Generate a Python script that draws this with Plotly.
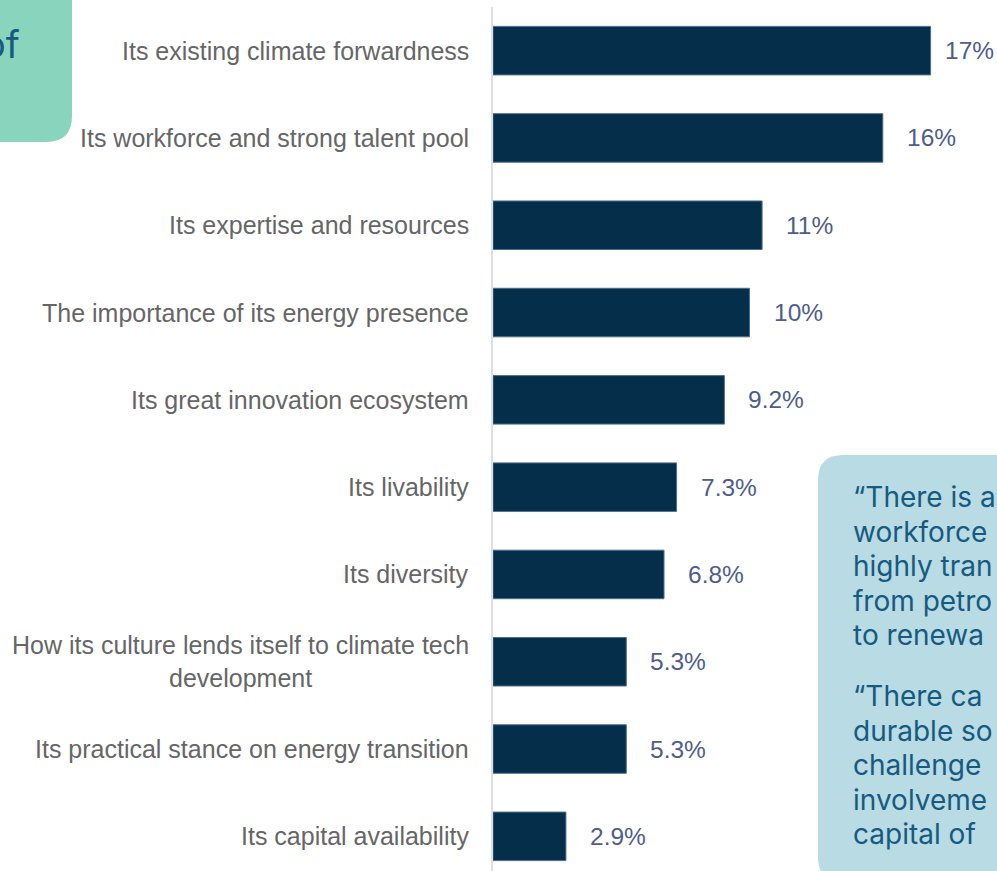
import plotly.graph_objects as go

# Survey data: share of respondents naming each strength (%)
categories = [
    "Its existing climate forwardness",
    "Its workforce and strong talent pool",
    "Its expertise and resources",
    "The importance of its energy presence",
    "Its great innovation ecosystem",
    "Its livability",
    "Its diversity",
    "How its culture lends itself to climate tech<br>development",
    "Its practical stance on energy transition",
    "Its capital availability",
]
values = [17.4, 15.5, 10.7, 10.2, 9.2, 7.3, 6.8, 5.3, 5.3, 2.9]

# Quote panel lines (the panel runs off the right edge of the page)
quote_one = [
    "\u201cThere is a",
    "workforce",
    "highly tran",
    "from petro",
    "to renewa",
]
quote_two = [
    "\u201cThere ca",
    "durable so",
    "challenge",
    "involveme",
    "capital of",
]
panel_heading = "of"

W, H = 997, 871
ML, MT = 493, 7
PLOT_W, PLOT_H = W - ML, H - MT
X_MAX = 20.04
Y_TOP, Y_BOTTOM = -0.5, 9.397

BAR = "#052e4b"
BAR_EDGE = "#4f6f8c"
LABEL = "#666666"
VALUE = "#4e5d8a"
MINT = "#89d4bc"
ICE = "#b8dbe4"
INK = "#165a80"


def px_x(px):
    return (px - ML) / PLOT_W


def px_y(py):
    return (H - py) / PLOT_H


def rounded_box(left, top, right, bottom, r, corners):
    """SVG path (paper coords) for a box with quadratic rounded corners."""
    tl, tr, br, bl = corners
    pts = []
    pts.append(f"M{px_x(left + (r if tl else 0))},{px_y(top)}")
    if tr:
        pts.append(f"L{px_x(right - r)},{px_y(top)}")
        pts.append(f"Q{px_x(right)},{px_y(top)} {px_x(right)},{px_y(top + r)}")
    else:
        pts.append(f"L{px_x(right)},{px_y(top)}")
    if br:
        pts.append(f"L{px_x(right)},{px_y(bottom - r)}")
        pts.append(f"Q{px_x(right)},{px_y(bottom)} {px_x(right - r)},{px_y(bottom)}")
    else:
        pts.append(f"L{px_x(right)},{px_y(bottom)}")
    if bl:
        pts.append(f"L{px_x(left + r)},{px_y(bottom)}")
        pts.append(f"Q{px_x(left)},{px_y(bottom)} {px_x(left)},{px_y(bottom - r)}")
    else:
        pts.append(f"L{px_x(left)},{px_y(bottom)}")
    if tl:
        pts.append(f"L{px_x(left)},{px_y(top + r)}")
        pts.append(f"Q{px_x(left)},{px_y(top)} {px_x(left + r)},{px_y(top)}")
    pts.append("Z")
    return " ".join(pts)


fig = go.Figure(
    go.Bar(
        x=values,
        y=categories,
        orientation="h",
        marker=dict(color=BAR, line=dict(color=BAR_EDGE, width=1)),
        width=0.556,
        hoverinfo="skip",
    )
)

annotations = []

# Category labels, right-aligned against the axis, multi-line ones centred
for cat in categories:
    annotations.append(dict(
        x=0, xref="paper", y=cat, yref="y",
        text=cat, showarrow=False,
        xanchor="right", yanchor="middle", align="center",
        xshift=-22,
        font=dict(family="Liberation Sans, Arial, sans-serif", size=25, color=LABEL),
    ))

# Value labels just past the end of each bar
vmax = max(values)
for cat, v in zip(categories, values):
    annotations.append(dict(
        x=v, xref="x", y=cat, yref="y",
        text=f"{v:.2g}%", showarrow=False,
        xanchor="left", yanchor="middle",
        xshift=12 if v == vmax else 22,
        font=dict(family="Liberation Sans, Arial, sans-serif", size=24.5, color=VALUE),
    ))

# Quote panel text
line_step = 34.5
for block, first_centre in ((quote_one, 497), (quote_two, 696)):
    for i, line in enumerate(block):
        annotations.append(dict(
            x=px_x(851), xref="paper", y=px_y(first_centre + i * line_step), yref="paper",
            text=line, showarrow=False, xanchor="left", yanchor="middle",
            font=dict(family="Inter, sans-serif", size=28, color=INK),
        ))

# Heading panel text
annotations.append(dict(
    x=px_x(22), xref="paper", y=px_y(44), yref="paper",
    text=panel_heading, showarrow=False, xanchor="right", yanchor="middle",
    font=dict(family="Inter, sans-serif", size=38, color=INK),
))

shapes = [
    dict(type="path", xref="paper", yref="paper", layer="below",
         path=rounded_box(-20, -20, 72, 142, 26, (False, False, True, False)),
         fillcolor=MINT, line=dict(width=0)),
    dict(type="path", xref="paper", yref="paper", layer="below",
         path=rounded_box(818, 455, 1020, 882, 25, (True, False, False, True)),
         fillcolor=ICE, line=dict(width=0)),
]

fig.update_layout(
    width=W, height=H,
    margin=dict(l=ML, r=0, t=MT, b=0, pad=0),
    paper_bgcolor="white", plot_bgcolor="white",
    showlegend=False,
    bargap=0.444,
    xaxis=dict(range=[0, X_MAX], visible=False, fixedrange=True),
    yaxis=dict(
        type="category", categoryorder="array", categoryarray=categories,
        range=[Y_BOTTOM, Y_TOP],
        showticklabels=False, showgrid=False, zeroline=False, ticks="",
        showline=True, linecolor="#dcdfe8", linewidth=2,
        fixedrange=True,
    ),
    annotations=annotations,
    shapes=shapes,
)

fig.write_html("out.html", config=dict(displayModeBar=False))
